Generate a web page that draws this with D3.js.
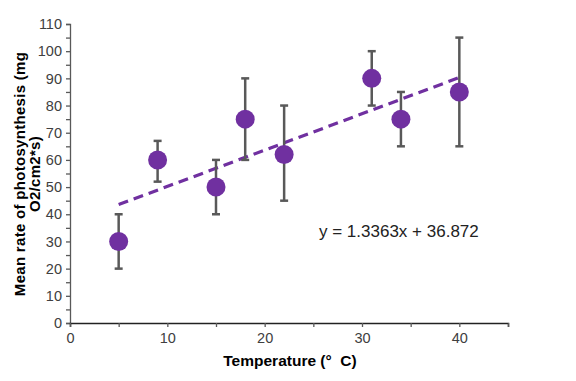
<html>
  <head>
    <meta charset="utf-8" />
    <title>Photosynthesis vs temperature</title>
    <style>
      body { margin: 0; background: #fff; }
      text { font-family: "Liberation Sans", Arial, sans-serif; }
    </style>
  </head>
  <body>
    <script src="https://cdn.jsdelivr.net/npm/d3@7/dist/d3.min.js"></script>
    <script>
      const width = 576;
      const height = 381;

      // data
      const temps = [5, 9, 15, 18, 22, 31, 34, 40];
      const means = [30, 60, 50, 75, 62, 90, 75, 85];
      const lows = [20, 52, 40, 60, 45, 80, 65, 65];
      const highs = [40, 67, 60, 90, 80, 100, 85, 105];
      const slope = 1.3363;
      const intercept = 36.872;
      const xTicks = [0, 10, 20, 30, 40];
      const yTicks = [0, 10, 20, 30, 40, 50, 60, 70, 80, 90, 100, 110];

      const purple = "#7030a0";
      const grey = "#595959";

      let svg = d3
        .select("body")
        .append("svg")
        .attr("width", width)
        .attr("height", height);

      let x = d3.scaleLinear().domain([0, 45]).range([70, 508]);
      let y = d3.scaleLinear().domain([0, 110]).range([323, 24]);

      // y axis (minor ticks every 5, labels on the tens)
      let yAxis = svg
        .append("g")
        .attr("transform", "translate(" + x(0) + ",0)")
        .call(
          d3.axisLeft(y).tickValues(d3.range(0, 111, 5)).tickSize(4).tickFormat(d => (yTicks.includes(d) ? d : ""))
        );
      yAxis.select(".domain").attr("stroke", grey).attr("stroke-width", 1.3);
      yAxis.selectAll(".tick line").attr("stroke", grey).attr("stroke-width", 1.3);
      yAxis.selectAll(".tick text")
        .attr("x", -8)
        .attr("fill", "#404040")
        .attr("font-size", 14.5);

      // x axis
      let xAxis = svg
        .append("g")
        .attr("transform", "translate(0," + y(0) + ")")
        .call(
          d3.axisBottom(x).tickValues(d3.range(0, 46, 5)).tickSize(4).tickFormat(d => (xTicks.includes(d) ? d : ""))
        );
      xAxis.select(".domain").attr("stroke", "#222").attr("stroke-width", 1.5);
      xAxis.selectAll(".tick line").attr("stroke", grey).attr("stroke-width", 1.3);
      xAxis.selectAll(".tick text")
        .attr("y", 10)
        .attr("fill", "#404040")
        .attr("font-size", 14.5);

      // trend line
      svg
        .append("line")
        .attr("x1", x(5))
        .attr("y1", y(slope * 5 + intercept))
        .attr("x2", x(40))
        .attr("y2", y(slope * 40 + intercept))
        .attr("stroke", purple)
        .attr("stroke-width", 3.2)
        .attr("stroke-dasharray", "10,6");

      // error bars
      let bars = svg.append("g").attr("stroke", grey).attr("stroke-width", 2.5);
      temps.forEach((t, i) => {
        bars.append("line")
          .attr("x1", x(t)).attr("x2", x(t))
          .attr("y1", y(lows[i])).attr("y2", y(highs[i]));
        [lows[i], highs[i]].forEach(v => {
          bars.append("line")
            .attr("x1", x(t) - 4).attr("x2", x(t) + 4)
            .attr("y1", y(v)).attr("y2", y(v));
        });
      });

      // points
      svg
        .append("g")
        .selectAll("circle")
        .data(temps)
        .enter()
        .append("circle")
        .attr("cx", d => x(d))
        .attr("cy", (d, i) => y(means[i]))
        .attr("r", 9.5)
        .attr("fill", purple);

      // equation
      svg
        .append("text")
        .attr("x", 319)
        .attr("y", 237)
        .attr("font-size", 17)
        .attr("fill", "#222")
        .text("y = " + slope + "x + " + intercept);

      // axis titles
      svg
        .append("text")
        .attr("x", 290)
        .attr("y", 366)
        .attr("text-anchor", "middle")
        .attr("font-size", 15.5)
        .attr("font-weight", "bold")
        .style("white-space", "pre")
        .text("Temperature (°  C)");

      let yTitle = svg
        .append("text")
        .attr("transform", "translate(25,174) rotate(-90)")
        .attr("text-anchor", "middle")
        .attr("font-size", 15)
        .attr("letter-spacing", 0.3)
        .attr("font-weight", "bold");
      yTitle.append("tspan").attr("x", 0).attr("y", 0).text("Mean rate of photosynthesis (mg");
      yTitle.append("tspan").attr("x", 0).attr("y", 15).text("O2/cm2*s)");
    </script>
  </body>
</html>
